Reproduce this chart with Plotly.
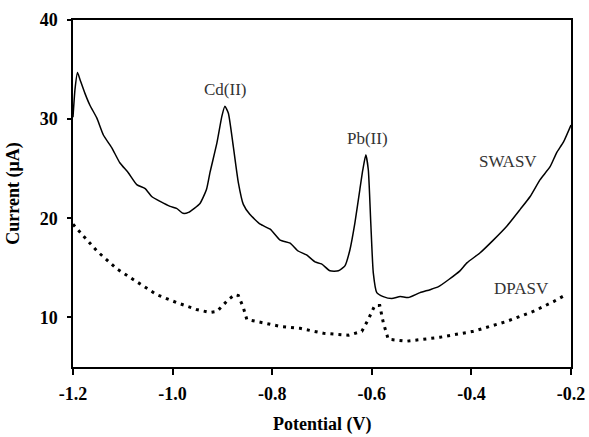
import plotly.graph_objects as go

# SWASV trace (solid)
sw_x = [-1.2, -1.196, -1.191, -1.186, -1.176, -1.166, -1.152, -1.139, -1.122, -1.106,
        -1.089, -1.072, -1.055, -1.042, -1.025, -1.005, -0.992, -0.979, -0.968, -0.945,
        -0.932, -0.925, -0.911, -0.901, -0.895, -0.888, -0.878, -0.868, -0.858, -0.845,
        -0.824, -0.804, -0.784, -0.764, -0.748, -0.731, -0.714, -0.701, -0.684, -0.667,
        -0.654, -0.644, -0.634, -0.624, -0.618, -0.612, -0.607, -0.602, -0.597, -0.59,
        -0.577, -0.56, -0.543, -0.527, -0.503, -0.483, -0.466, -0.446, -0.423, -0.409,
        -0.383, -0.356, -0.329, -0.302, -0.282, -0.262, -0.242, -0.229, -0.215, -0.2]
sw_y = [30.2, 33.0, 34.7, 34.0, 32.6, 31.4, 30.1, 28.4, 27.1, 25.6,
        24.6, 23.4, 23.0, 22.2, 21.7, 21.2, 21.0, 20.5, 20.6, 21.5,
        22.9, 24.6, 27.6, 30.3, 31.3, 30.6, 27.2, 23.6, 21.4, 20.4,
        19.4, 18.9, 17.8, 17.5, 16.7, 16.3, 15.6, 15.4, 14.7, 14.7,
        15.2, 16.8, 19.5, 22.9, 24.9, 26.4, 24.9, 19.5, 14.5, 12.5,
        12.1, 11.9, 12.1, 12.0, 12.5, 12.8, 13.1, 13.8, 14.7, 15.5,
        16.5, 17.8, 19.2, 20.9, 22.2, 23.9, 25.2, 26.6, 27.7, 29.4]

# DPASV trace (dotted)
dp_x = [-1.2, -1.152, -1.112, -1.072, -1.032, -0.992, -0.952, -0.925, -0.911, -0.888,
        -0.875, -0.868, -0.858, -0.851, -0.824, -0.784, -0.744, -0.697, -0.647, -0.62,
        -0.607, -0.594, -0.584, -0.577, -0.567, -0.53, -0.463, -0.396, -0.329, -0.276,
        -0.235, -0.21]
dp_y = [19.4, 16.7, 14.9, 13.6, 12.3, 11.5, 10.8, 10.5, 10.6, 11.8,
        12.3, 12.2, 11.0, 9.8, 9.5, 9.1, 8.9, 8.4, 8.2, 8.6,
        9.8, 11.2, 11.2, 9.5, 7.8, 7.6, 8.0, 8.6, 9.6, 10.6,
        11.6, 12.3]

labels = ['Cd(II)', 'Pb(II)', 'SWASV', 'DPASV']
label_x = [-0.895, -0.608, -0.326, -0.299]
label_y = [33.0, 28.0, 25.7, 12.9]

x_ticks = [-1.2, -1.0, -0.8, -0.6, -0.4, -0.2]
y_ticks = [10, 20, 30, 40]

serif = 'Times New Roman, Liberation Serif'

fig = go.Figure()
fig.add_trace(go.Scatter(x=sw_x, y=sw_y, mode='lines',
                         line=dict(color='black', width=1.5, shape='spline', smoothing=0.5)))
fig.add_trace(go.Scatter(x=dp_x, y=dp_y, mode='lines',
                         line=dict(color='black', width=3, dash='3px,5px')))

# curve labels
for t, x, y in zip(labels, label_x, label_y):
    fig.add_annotation(x=x, y=y, text=t, showarrow=False,
                       font=dict(family=serif, size=17, color='#333333'))

# x axis title, placed a bit lower than plotly's default spot
fig.add_annotation(x=0.5, y=-0.165, xref='paper', yref='paper', yanchor='middle',
                   text='<b>Potential (V)</b>', showarrow=False,
                   font=dict(family=serif, size=18, color='black'))

fig.update_layout(
    width=589, height=437,
    margin=dict(l=73, r=18, t=20, b=70),
    plot_bgcolor='white', paper_bgcolor='white',
    showlegend=False,
    font=dict(family=serif, color='black'),
    xaxis=dict(range=[-1.2, -0.2], tickvals=x_ticks,
               ticktext=['<b>%.1f</b>' % v for v in x_ticks],
               ticks='outside', ticklen=6, tickwidth=1.5, tickcolor='black',
               ticklabeloverflow='allow', ticklabelstandoff=4,
               showline=True, linewidth=1.5, linecolor='black', mirror=True,
               showgrid=False, zeroline=False, automargin=False,
               tickfont=dict(family=serif, size=18, color='black')),
    yaxis=dict(range=[5, 40], tickvals=y_ticks,
               ticktext=['<b>%d</b>' % v for v in y_ticks],
               ticks='outside', ticklen=4, tickwidth=1.5, tickcolor='black',
               ticklabelstandoff=6,
               showline=True, linewidth=1.5, linecolor='black', mirror=True,
               showgrid=False, zeroline=False, automargin=False,
               tickfont=dict(family=serif, size=18, color='black'),
               title=dict(text='<b>Current (μA)</b>',
                          font=dict(family=serif, size=18))),
)

# page body has a default margin; remove it so the plot sits at 0,0
fig.write_html('out.html', config={'displayModeBar': False},
               post_script="document.body.style.margin='0px';")
